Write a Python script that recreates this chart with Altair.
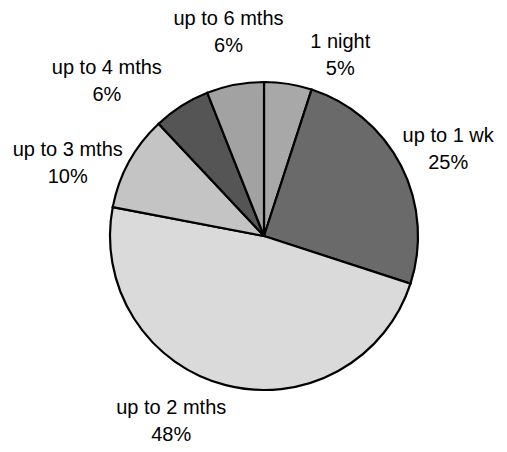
import altair as alt
import pandas as pd

categories = ["1 night", "up to 1 wk", "up to 2 mths", "up to 3 mths", "up to 4 mths", "up to 6 mths"]
percents = [5, 25, 48, 10, 6, 6]
fills = ["#a8a8a8", "#6a6a6a", "#dadada", "#c4c4c4", "#555555", "#a2a2a2"]

df = pd.DataFrame({
    "idx": list(range(len(categories))),
    "cat": categories,
    "pct": percents,
})
df["label"] = [f"{c}\n{p}%" for c, p in zip(categories, percents)]

# label nudges (styling)
offsets = {
    "1 night": (45, 17),
    "up to 1 wk": (6, 4),
    "up to 2 mths": (-43, -8),
    "up to 3 mths": (-21, 24),
    "up to 4 mths": (-50, 14),
    "up to 6 mths": (2, -7),
}
LINE_SHIFT = -13.5

CX, CY = 256, 228
theta_scale = alt.Scale(domain=[0, 100], range=[0, 6.283185307])

base = alt.Chart(df).transform_window(
    cum="sum(pct)", sort=[alt.SortField("idx")], frame=[None, 0]
).transform_calculate(
    start="datum.cum - datum.pct",
    mid="datum.cum - datum.pct / 2",
)

arcs = base.mark_arc(outerRadius=154, stroke="black", strokeWidth=2.2).encode(
    theta=alt.Theta("start:Q", scale=theta_scale),
    theta2="cum:Q",
    color=alt.Color("cat:N", scale=alt.Scale(domain=categories, range=fills), legend=None),
    x=alt.value(CX),
    y=alt.value(CY),
)

layers = [arcs]
for c in categories:
    dx, dy = offsets[c]
    t = base.transform_filter(alt.datum.cat == c).mark_text(
        radius=200, font="Liberation Sans", fontSize=20, lineBreak="\n",
        lineHeight=27, align="center", baseline="middle", color="black",
        dx=dx, dy=dy + LINE_SHIFT,
    ).encode(
        theta=alt.Theta("mid:Q", scale=theta_scale),
        text="label:N",
        x=alt.value(CX),
        y=alt.value(CY),
    )
    layers.append(t)

chart = alt.layer(*layers).properties(
    width=491, height=436, padding=0, autosize=alt.AutoSizeParams(type="none")
).configure_view(stroke=None)

chart.save("out.html", embed_options={"renderer": "svg", "actions": False})
